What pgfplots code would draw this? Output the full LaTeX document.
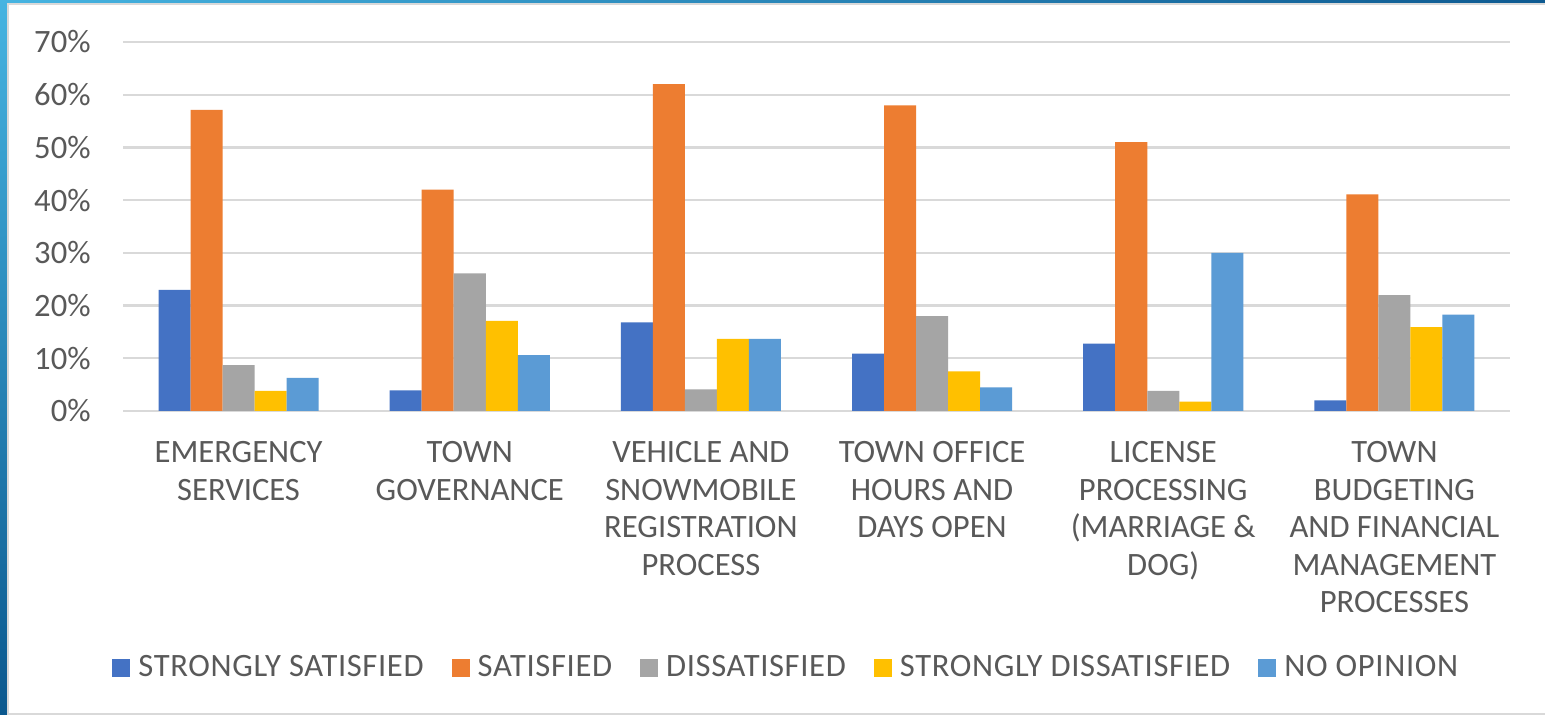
\documentclass[border=0pt]{standalone}
\usepackage{pgfplots}
\pgfplotsset{compat=1.18}
\usetikzlibrary{shadings}
\usepackage{fontspec}
\setmainfont{Carlito}
\newfontfamily\legfont[LetterSpace=2]{Carlito}
\definecolor{cSS}{HTML}{4472C4}
\definecolor{cS}{HTML}{ED7D31}
\definecolor{cD}{HTML}{A5A5A5}
\definecolor{cSD}{HTML}{FFC000}
\definecolor{cNO}{HTML}{5B9BD5}
\definecolor{txt}{HTML}{595959}
\definecolor{gridc}{HTML}{D9D9D9}
\definecolor{fA}{HTML}{46B4E1}
\definecolor{fB}{HTML}{0E5A91}
\definecolor{fC}{HTML}{0B588E}
\newcommand{\cf}{\fontsize{16.3}{18.8}\selectfont}
\newcommand{\lf}{\legfont\fontsize{16.3}{18}\selectfont}
\begin{document}
\begin{tikzpicture}
\path[use as bounding box] (0,0) rectangle (772.5pt,357.5pt);
\shade[upper left=fA, upper right=fB, lower left=fC, lower right=fC]
  (0,0) rectangle (772.5pt,357.5pt);
\fill[white] (4pt,0.5pt) rectangle (772.5pt,355.5pt);
\draw[gridc, line width=0.8pt] (772.5pt,355.5pt) -- (4pt,355.5pt) -- (4pt,0.5pt) -- (772.5pt,0.5pt);
\begin{axis}[
  at={(61.5pt,152pt)}, anchor=south west,
  scale only axis, width=693.5pt, height=184.5pt,
  ybar=0pt, bar width=0.1385,
  xmin=-0.5, xmax=5.5, ymin=0, ymax=70,
  axis line style={draw=none},
  major tick length=0pt,
  ytick={0,10,20,30,40,50,60,70},
  yticklabels={0\%,10\%,20\%,30\%,40\%,50\%,60\%,70\%},
  ymajorgrids, xmajorgrids=false, grid style={gridc, line width=1.2pt},
  xtick={0,1,2,3,4,5},
  xticklabels={{EMERGENCY\\SERVICES},{TOWN\\GOVERNANCE},{VEHICLE AND\\SNOWMOBILE\\REGISTRATION\\PROCESS},{TOWN OFFICE\\HOURS AND\\DAYS OPEN},{LICENSE\\PROCESSING\\(MARRIAGE \&\\DOG)},{TOWN\\BUDGETING\\AND FINANCIAL\\MANAGEMENT\\PROCESSES}},
  xticklabel style={align=center, anchor=north, inner sep=0pt, yshift=-15pt, font=\cf, text=txt},
  yticklabel style={anchor=east, inner sep=0pt, xshift=-16pt, font=\cf, text=txt},
  legend columns=5,
  legend style={at={(0.4775,-0.696)}, anchor=center, draw=none, fill=none, font=\lf, text=txt,
    nodes={inner sep=0pt},
    /tikz/every odd column/.append style={column sep=4pt},
    /tikz/every even column/.append style={column sep=14pt}},
  legend image code/.code={\fill[#1] (0pt,-4.5pt) rectangle (9pt,4.5pt);},
]
\addplot[fill=cSS, draw=none] coordinates {(0,23) (1,3.9) (2,16.8) (3,10.9) (4,12.8) (5,2.0)};
\addplot[fill=cS, draw=none] coordinates {(0,57.1) (1,42) (2,62) (3,58) (4,51) (5,41.1)};
\addplot[fill=cD, draw=none] coordinates {(0,8.7) (1,26.1) (2,4.1) (3,18) (4,3.8) (5,22)};
\addplot[fill=cSD, draw=none] coordinates {(0,3.8) (1,17.1) (2,13.7) (3,7.5) (4,1.8) (5,15.9)};
\addplot[fill=cNO, draw=none] coordinates {(0,6.3) (1,10.6) (2,13.7) (3,4.5) (4,30) (5,18.3)};
\legend{STRONGLY SATISFIED, SATISFIED, DISSATISFIED, STRONGLY DISSATISFIED, NO OPINION}
\end{axis}
\end{tikzpicture}
\end{document}
